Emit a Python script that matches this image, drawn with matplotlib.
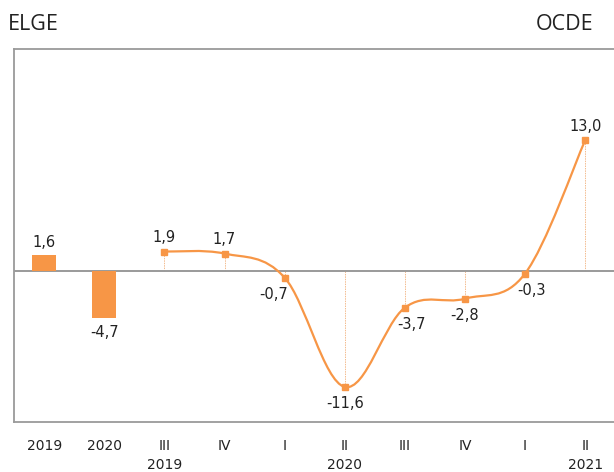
import matplotlib
matplotlib.use('Agg')
import matplotlib.pyplot as plt
from matplotlib.path import Path
from matplotlib.patches import PathPatch
import numpy as np

# data
year_labels = ['2019', '2020']
year_values = [1.6, -4.7]
quarter_labels = ['III\n2019', 'IV', 'I', 'II\n2020', 'III', 'IV', 'I', 'II\n2021']
quarter_values = [1.9, 1.7, -0.7, -11.6, -3.7, -2.8, -0.3, 13.0]

orange = '#f79646'
peach = '#f3bb8e'
grey = '#9a9a9a'
text_col = '#222222'


def fmt(v):
    return f'{v:.1f}'.replace('.', ',')


def smooth_path(xs, ys, k=0.175):
    # bezier through the points, like a spreadsheet "smoothed line"
    pts = np.column_stack([xs, ys])
    n = len(pts)
    verts = [pts[0]]
    codes = [Path.MOVETO]
    for i in range(n - 1):
        p0 = pts[i - 1] if i > 0 else pts[i]
        p1 = pts[i]
        p2 = pts[i + 1]
        p3 = pts[i + 2] if i + 2 < n else pts[i + 1]
        c1 = p1 + (p2 - p0) * k
        c2 = p2 - (p3 - p1) * k
        verts += [c1, c2, p2]
        codes += [Path.CURVE4] * 3
    return Path(verts, codes)


fig = plt.figure(figsize=(6.14, 4.72), dpi=100)
ax = fig.add_axes([0.023, 0.106, 0.977, 0.790])

n_years = len(year_values)
x_years = np.arange(n_years)
x_quarters = np.arange(n_years, n_years + len(quarter_values))

ax.bar(x_years, year_values, width=0.4, color=orange, zorder=3)

# drop lines from zero to quarter points
ax.vlines(x_quarters, 0, quarter_values, color=peach, lw=0.7,
          linestyles=(0, (1.5, 1)), zorder=1)

ax.axhline(0, color=grey, lw=1.4, zorder=2)

ax.add_patch(PathPatch(smooth_path(x_quarters, quarter_values), fill=False,
                       edgecolor=orange, lw=1.6, zorder=4))
ax.plot(x_quarters, quarter_values, ls='none', marker='s', ms=5,
        color=orange, zorder=5)

for x, v in zip(x_years, year_values):
    off = 9 if v > 0 else -11
    ax.annotate(fmt(v), (x, v), xytext=(0, off), textcoords='offset points',
                ha='center', va='center', fontsize=10.5, color=text_col)

label_dx = [0, 0, -8, 0, 5, 0, 5, 0]
for x, v, dx in zip(x_quarters, quarter_values, label_dx):
    off = 10 if v > 0 else -12
    ax.annotate(fmt(v), (x, v), xytext=(dx, off), textcoords='offset points',
                ha='center', va='center', fontsize=10.5, color=text_col)

ax.set_xlim(-0.5, 9.48)
ax.set_ylim(-15.1, 22.1)
ax.set_yticks([])
ax.set_xticks(list(x_years) + list(x_quarters))
ax.set_xticklabels(year_labels + quarter_labels, fontsize=10, color=text_col,
                   linespacing=1.45, va='top')
ax.tick_params(axis='x', length=0, pad=12)

for side in ['top', 'left', 'bottom']:
    ax.spines[side].set_color(grey)
    ax.spines[side].set_linewidth(1.3)
ax.spines['right'].set_visible(False)

fig.text(0.013, 0.948, 'ELGE', fontsize=15.5, family='Open Sans', color=text_col,
         ha='left', va='center')
fig.text(0.966, 0.948, 'OCDE', fontsize=15.5, family='Open Sans', color=text_col,
         ha='right', va='center')

fig.savefig('out.png', dpi=100)
